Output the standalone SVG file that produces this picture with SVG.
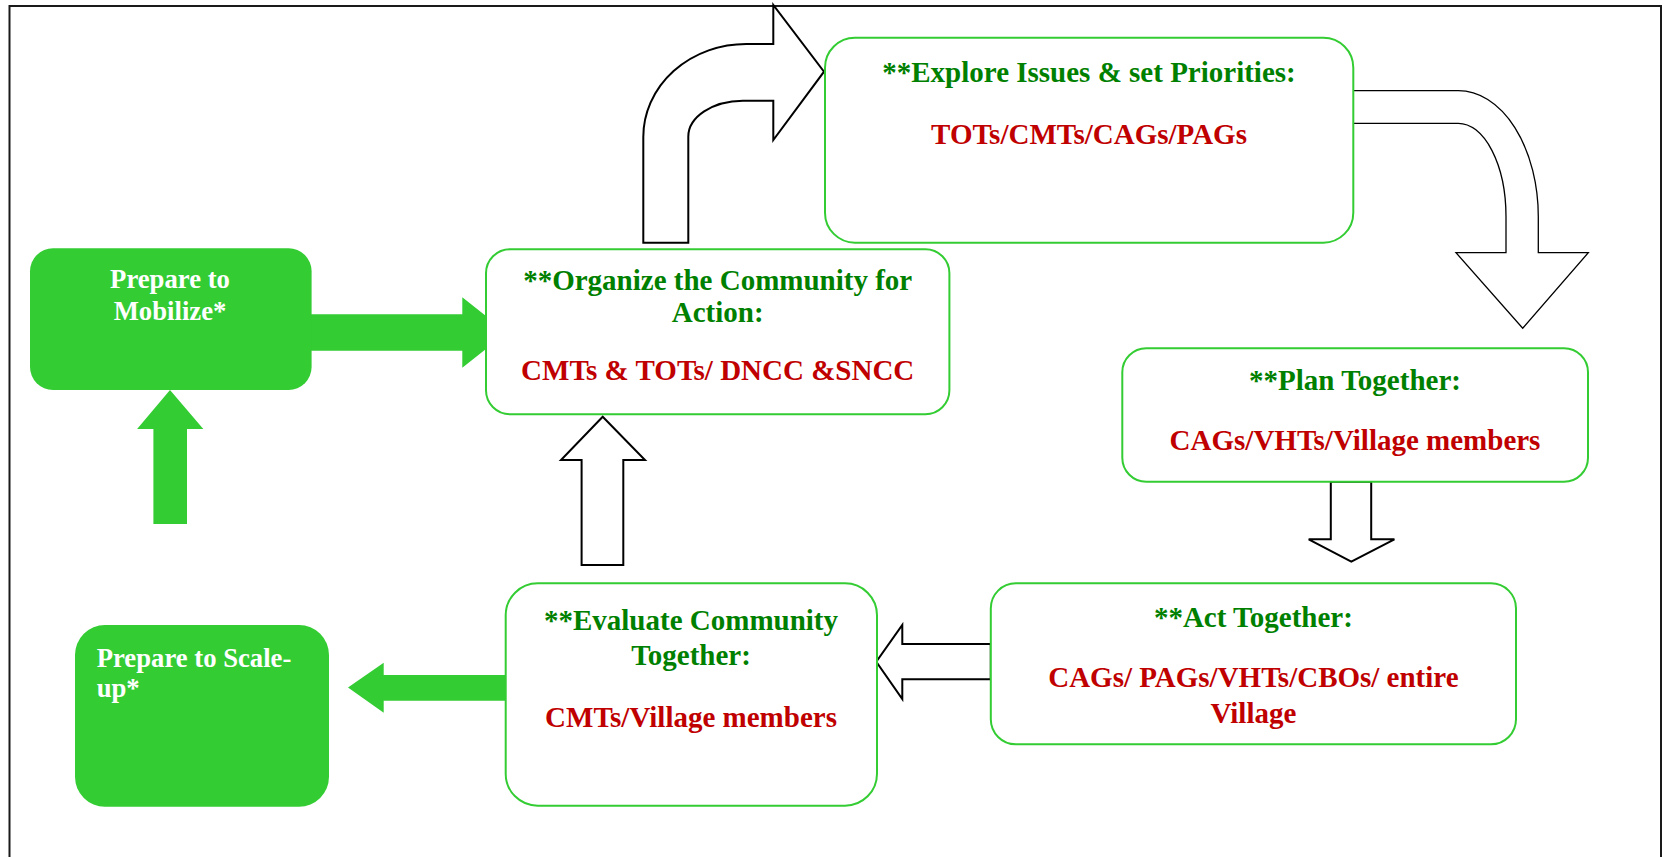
<svg xmlns="http://www.w3.org/2000/svg" width="1667" height="857" viewBox="0 0 1667 857">
<style>
.bg{fill:#ffffff}
.frame{fill:none;stroke:#1a1a1a;stroke-width:2}
.box{fill:#ffffff;stroke:#3c3;stroke-width:2}
.gbox{fill:#33cc33;stroke:none}
.ga{fill:#33cc33;stroke:none}
.ba{fill:#ffffff;stroke:#000000;stroke-width:2;stroke-linejoin:miter}
.bat{fill:#ffffff;stroke:#000000;stroke-width:1.3}
text{font-family:"Liberation Serif","Times New Roman",serif;font-weight:bold}
.h{fill:#008000;font-size:29px;text-anchor:middle}
.r{fill:#c00000;font-size:29px;text-anchor:middle}
.w{fill:#ffffff;font-size:26.7px}
</style>
<rect class="bg" x="0" y="0" width="1667" height="857"/>
<rect class="frame" x="9.5" y="6" width="1651.5" height="880"/>
<g id="connectors">
<path class="ba" d="M643.3,242.7 L688.3,242.7 L688.3,137 A55,36 0 0 1 743,100.7 L773.3,100.7 L773.3,140 L824,71.7 L773.3,5 L773.3,44 L746.7,44 A103,93 0 0 0 643.3,137 Z"/>
<path class="bat" d="M1353.3,90.7 L1458.3,90.7 A80,126 0 0 1 1538.3,216.7 L1538.3,252.7 L1588.3,252.7 L1522.7,328.3 L1456,252.7 L1506,252.7 L1506,216.7 A47.7,93.4 0 0 0 1458.3,123.3 L1353.3,123.3"/>
<path class="ba" d="M1330.8,481.7 L1330.8,539.3 L1308.7,539.3 L1351.3,561.7 L1394.4,539.3 L1371.2,539.3 L1371.2,481.7 Z"/>
<path class="ba" d="M990.8,644 L902.3,644 L902.3,625 L876.3,661.7 L902.3,699 L902.3,679.3 L990.8,679.3 Z"/>
<path class="ba" d="M581.6,565 L581.6,460 L561,460 L602.7,416.7 L645,460 L623.3,460 L623.3,565 Z"/>
<path class="ga" d="M311,314.3 L462.3,314.3 L462.3,297.3 L506.8,332.5 L462.3,367.7 L462.3,350.7 L311,350.7 Z"/>
<path class="ga" d="M153.4,524 L153.4,429 L137.1,429 L170,390 L203.3,429 L187,429 L187,524 Z"/>
<path class="ga" d="M506,675 L383.7,675 L383.7,662.7 L348,687.5 L383.7,712.7 L383.7,700.7 L506,700.7 Z"/>
</g>
<g id="prepare-mobilize">
<rect class="gbox" x="30" y="248.3" width="281.6" height="141.7" rx="23"/>
<text class="w" x="170" y="288.3" text-anchor="middle">Prepare to</text>
<text class="w" x="170" y="320" text-anchor="middle">Mobilize*</text>
</g>
<g id="organize">
<rect class="box" x="486" y="249.3" width="463.4" height="165" rx="24"/>
<text class="h" x="717.7" y="290">**Organize the Community for</text>
<text class="h" x="717.7" y="321.7">Action:</text>
<text class="r" x="717.7" y="380">CMTs &amp; TOTs/ DNCC &amp;SNCC</text>
</g>
<g id="explore">
<rect class="box" x="825" y="37.7" width="528.3" height="205" rx="30"/>
<text class="h" x="1089" y="81.7">**Explore Issues &amp; set Priorities:</text>
<text class="r" x="1089" y="144">TOTs/CMTs/CAGs/PAGs</text>
</g>
<g id="plan">
<rect class="box" x="1122.3" y="348.3" width="465.7" height="133.4" rx="24"/>
<text class="h" x="1355" y="390">**Plan Together:</text>
<text class="r" x="1355" y="450">CAGs/VHTs/Village members</text>
</g>
<g id="act">
<rect class="box" x="990.8" y="583.3" width="525.2" height="161" rx="25"/>
<text class="h" x="1253.4" y="626.7">**Act Together:</text>
<text class="r" x="1253.4" y="687.3">CAGs/ PAGs/VHTs/CBOs/ entire</text>
<text class="r" x="1253.4" y="722.7">Village</text>
</g>
<g id="evaluate">
<rect class="box" x="505.7" y="583.3" width="371.3" height="222.4" rx="32"/>
<text class="h" x="691" y="630">**Evaluate Community</text>
<text class="h" x="691" y="665">Together:</text>
<text class="r" x="691" y="726.7">CMTs/Village members</text>
</g>
<g id="prepare-scale">
<rect class="gbox" x="75" y="625" width="254" height="181.7" rx="30"/>
<text class="w" x="96.7" y="666.7">Prepare to Scale-</text>
<text class="w" x="96.7" y="696.7">up*</text>
</g>
</svg>
